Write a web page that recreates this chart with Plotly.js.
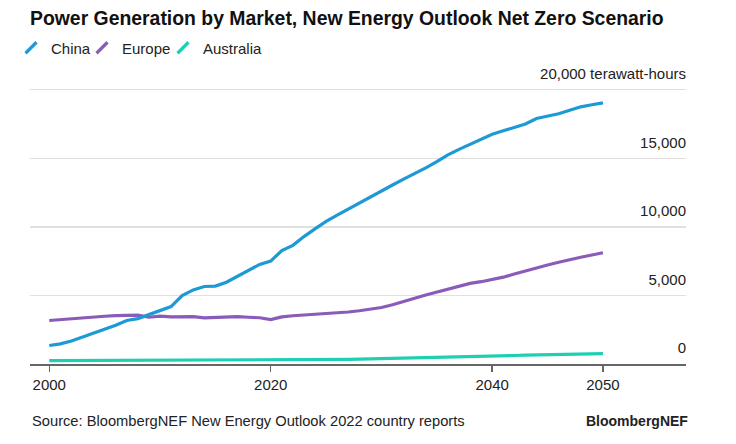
<!DOCTYPE html>
<html>
<head>
<meta charset="utf-8">
<script src="https://cdn.plot.ly/plotly-3.0.1.min.js"></script>
<style>html,body{margin:0;padding:0;background:#fff;}#chart{width:736px;height:444px;}</style>
</head>
<body>
<div id="chart"></div>
<script>
var years = [2000,2001,2002,2003,2004,2005,2006,2007,2008,2009,2010,2011,2012,2013,2014,2015,2016,2017,2018,2019,2020,2021,2022,2023,2024,2025,2026,2027,2028,2029,2030,2031,2032,2033,2034,2035,2036,2037,2038,2039,2040,2041,2042,2043,2044,2045,2046,2047,2048,2049,2050];
var china = [1350,1470,1680,1950,2250,2550,2820,3170,3310,3600,3880,4190,4990,5400,5650,5680,5960,6400,6880,7260,7500,8270,8650,9290,9850,10400,10850,11300,11750,12200,12650,13050,13480,13870,14300,14750,15250,15650,16000,16380,16750,17000,17250,17500,17900,18050,18240,18500,18750,18900,19040];
var europe = [3170,3240,3260,3360,3420,3480,3530,3560,3560,3410,3490,3440,3460,3460,3360,3410,3460,3460,3410,3370,3240,3430,3520,3570,3610,3670,3730,3790,3880,3980,4120,4320,4580,4800,5030,5240,5470,5700,5880,6000,6150,6330,6560,6800,7000,7220,7420,7620,7780,7950,8110];
var australia = [250,252,255,258,260,262,264,265,266,267,268,268,268,269,270,270,270,271,272,273,265,275,280,290,300,310,322,335,350,365,380,400,420,440,460,480,500,520,540,560,580,600,620,640,660,680,700,715,730,745,760];
var seriesNames = ["China","Europe","Australia"];
var seriesColors = ["#1d9ad6","#8a5cb9","#1fcfb3"];
var yTickVals = [0,5000,10000,15000,20000];
var yTickText = ["0","5,000","10,000","15,000","20,000 terawatt-hours"];
var xTickVals = [2000,2020,2040,2050];
var titleText = "Power Generation by Market, New Energy Outlook Net Zero Scenario";
var sourceText = "Source: BloombergNEF New Energy Outlook 2022 country reports";
var brandText = "BloombergNEF";

var FONT = "Liberation Sans, Arial, sans-serif";
var seriesData = [china, europe, australia];
var legendIds = ["legend","legend2","legend3"];
var traces = [];
// draw Australia first so others sit on top
[2,1,0].forEach(function(i){
  traces.push({x: years, y: seriesData[i], type: "scatter", mode: "lines", name: seriesNames[i],
    line: {color: seriesColors[i], width: 3.2}, showlegend: false, hoverinfo: "skip"});
});
[0,1,2].forEach(function(i){
  traces.push({x: [null], y: [null], type: "scatter", mode: "markers", name: seriesNames[i],
    legend: legendIds[i],
    marker: {symbol: "line-ne", size: 11, color: seriesColors[i], line: {color: seriesColors[i], width: 3.2}}});
});

function legendDef(x){
  return {x: x, xref: "container", xanchor: "left", y: 1 - 48/444, yref: "container", yanchor: "middle",
    orientation: "h", font: {family: FONT, size: 15, color: "#222"}, bgcolor: "rgba(0,0,0,0)", borderwidth: 0,
    itemwidth: 30};
}

var layout = {
  width: 736, height: 444,
  margin: {l: 30, r: 50, t: 54, b: 80, pad: 0, autoexpand: false},
  paper_bgcolor: "#fff", plot_bgcolor: "#fff",
  font: {family: FONT, size: 15, color: "#222"},
  title: {text: "<b>" + titleText + "</b>", x: 30/736, xref: "container", xanchor: "left",
    y: 1 - 18/444, yref: "container", yanchor: "middle", font: {family: FONT, size: 19.4, color: "#111"}},
  xaxis: {range: [1998.26, 2057.5], tickvals: xTickVals, ticktext: xTickVals.map(String),
    showgrid: false, zeroline: false, showline: true, linecolor: "#666", linewidth: 2,
    ticks: "outside", ticklen: 6, tickwidth: 1.5, tickcolor: "#666",
    tickfont: {family: FONT, size: 15, color: "#222"}, fixedrange: true},
  yaxis: {range: [0, 22600], side: "left", anchor: "free", position: 1, tickvals: yTickVals, ticktext: yTickText,
    ticklabelposition: "outside", ticklabelshift: -16, ticklabelstandoff: 0, ticks: "",
    showgrid: true, gridcolor: "#e0e0e0", gridwidth: 1.5, zeroline: false, showline: false,
    tickfont: {family: FONT, size: 15, color: "#222"}, fixedrange: true},
  legend: legendDef(11/736),
  legend2: legendDef(82/736),
  legend3: legendDef(163/736),
  annotations: [
    {text: sourceText, xref: "paper", yref: "paper", x: 0, xanchor: "left", y: (364-421)/310, yanchor: "middle",
      showarrow: false, font: {family: FONT, size: 14.7, color: "#222"}},
    {text: "<b>" + brandText + "</b>", xref: "paper", yref: "paper", x: (690-30)/656, xanchor: "right", y: (364-421)/310, yanchor: "middle",
      showarrow: false, font: {family: FONT, size: 14, color: "#222"}}
  ],
  showlegend: true
};

Plotly.newPlot("chart", traces, layout, {displayModeBar: false, staticPlot: true});
</script>
</body>
</html>
